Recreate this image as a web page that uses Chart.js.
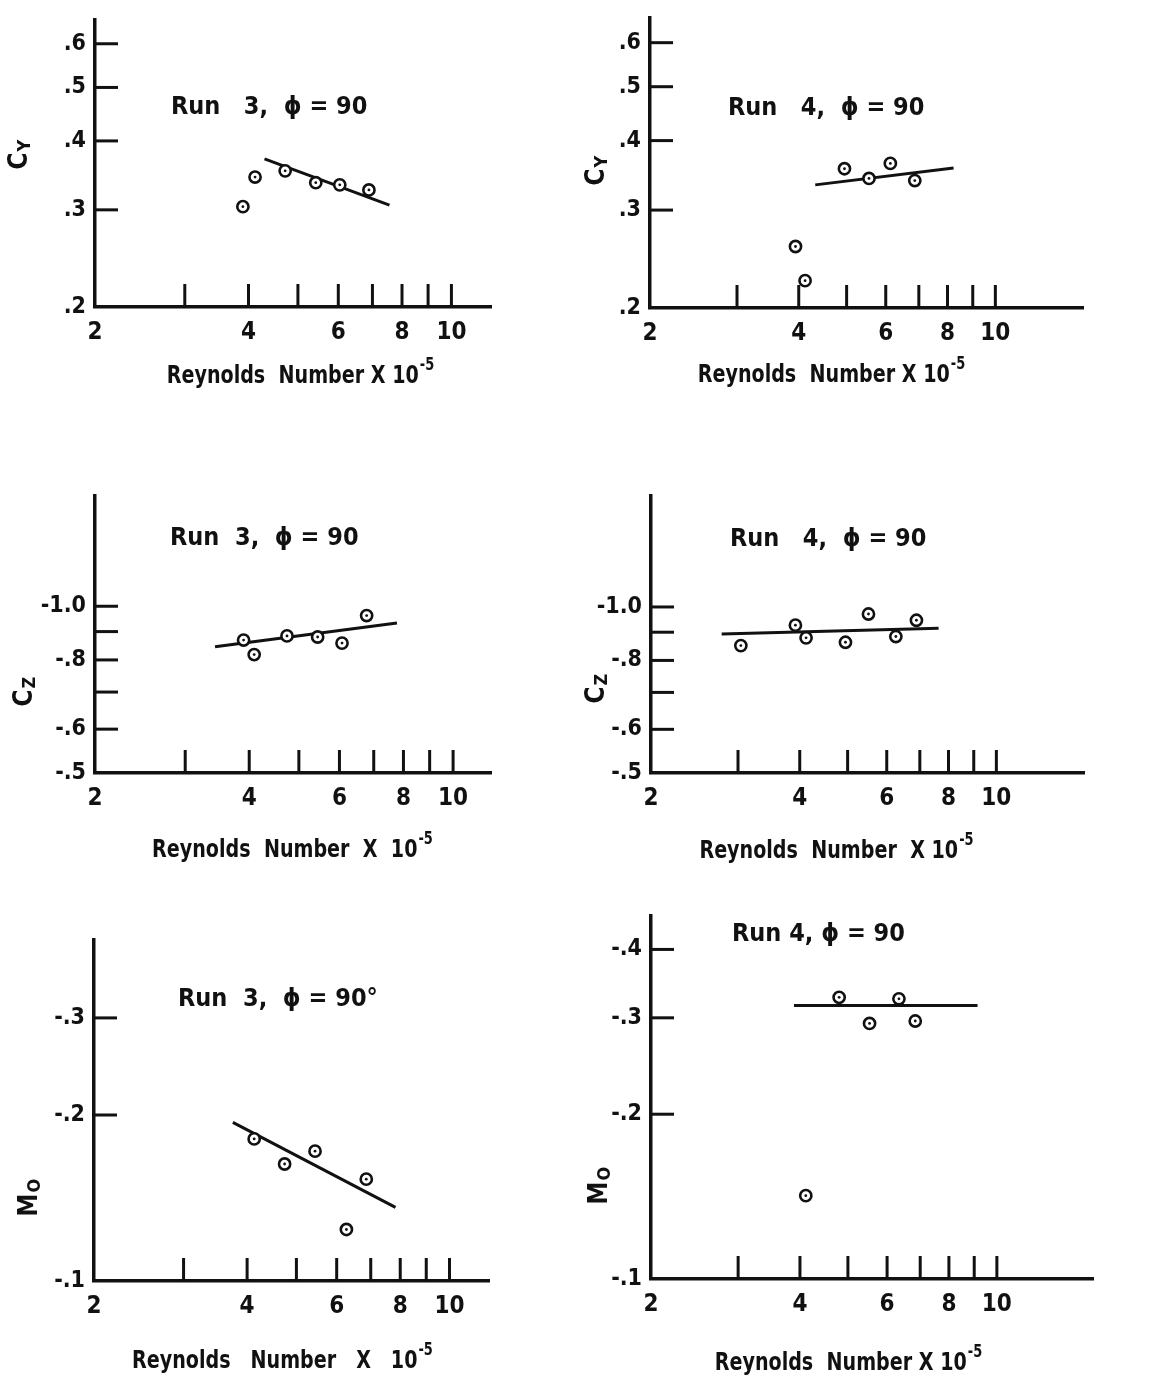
<!DOCTYPE html>
<html>
<head>
<meta charset="utf-8">
<script src="https://cdn.jsdelivr.net/npm/chart.js@4.4.1/dist/chart.umd.min.js"></script>
<style>
	html, body { margin: 0; padding: 0; background: #fff; overflow: hidden; }
	#page { position: relative; width: 1161px; height: 1379px; background: #fff; }
	#page canvas { position: absolute; }
</style>
</head>
<body>
<div id="page"></div>
<script>
	// Reynolds number axis (x 10^-5)
	const reTicks = [2, 3, 4, 5, 6, 7, 8, 9, 10];
	const reTickLabels = ['2', '', '4', '', '6', '', '8', '', '10'];

	// value axes
	const cyTicks = [0.2, 0.3, 0.4, 0.5, 0.6];
	const cyTickLabels = ['.2', '.3', '.4', '.5', '.6'];
	const czTicks = [-0.5, -0.6, -0.7, -0.8, -0.9, -1.0];
	const czTickLabels = ['-.5', '-.6', '', '-.8', '', '-1.0'];
	const mo3Ticks = [-0.1, -0.2, -0.3];
	const mo3TickLabels = ['-.1', '-.2', '-.3'];
	const mo4Ticks = [-0.1, -0.2, -0.3, -0.4];
	const mo4TickLabels = ['-.1', '-.2', '-.3', '-.4'];

	// Run 3, C_Y
	const run3CyRe = [3.90, 4.12, 4.72, 5.42, 6.04, 6.89];
	const run3Cy = [0.304, 0.344, 0.353, 0.336, 0.333, 0.326];
	const run3CyFitRe = [4.30, 7.56];
	const run3CyFit = [0.371, 0.306];

	// Run 4, C_Y
	const run4CyRe = [3.94, 4.12, 4.95, 5.55, 6.13, 6.87];
	const run4Cy = [0.258, 0.224, 0.356, 0.342, 0.364, 0.339];
	const run4CyFitRe = [4.32, 8.23];
	const run4CyFit = [0.333, 0.357];

	// Run 3, C_Z
	const run3CzRe = [3.90, 4.09, 4.74, 5.44, 6.07, 6.78];
	const run3Cz = [-0.869, -0.818, -0.884, -0.880, -0.858, -0.962];
	const run3CzFitRe = [3.43, 7.77];
	const run3CzFit = [-0.845, -0.933];

	// Run 4, C_Z
	const run4CzRe = [3.04, 3.92, 4.12, 4.95, 5.51, 6.26, 6.89];
	const run4Cz = [-0.851, -0.927, -0.879, -0.863, -0.971, -0.884, -0.946];
	const run4CzFitRe = [2.78, 7.64];
	const run4CzFit = [-0.893, -0.915];

	// Run 3, M_O
	const run3MoRe = [4.13, 4.74, 5.44, 6.27, 6.86];
	const run3Mo = [-0.181, -0.163, -0.172, -0.124, -0.153];
	const run3MoFitRe = [3.75, 7.83];
	const run3MoFit = [-0.194, -0.136];

	// Run 4, M_O
	const run4MoRe = [4.11, 4.80, 5.53, 6.34, 6.84];
	const run4Mo = [-0.142, -0.327, -0.293, -0.325, -0.296];
	const run4MoFitRe = [3.89, 9.14];
	const run4MoFit = [-0.316, -0.316];

	const INK = '#111';
	const FONT = "'Liberation Sans Narrow', 'DejaVu Sans Condensed', 'Roboto Condensed', sans-serif";
	const X_BAND = 100;
	const TICK_LEN = 23;
	const SQUEEZE = 0.85;

	// panel layout
	const panels = [
		{ left: 0, top: 12, width: 500, yWidth: 95, plotH: 295, xMax: 12.0, yMin: 0.2, yMax: 0.662,
			re: run3CyRe, val: run3Cy, fitRe: run3CyFitRe, fit: run3CyFit, yTicks: cyTicks, yLabels: cyTickLabels,
			note: 'Run   3,  \u03D5 = 90', noteAt: [76, 94], yMain: 'C', ySub: 'Y', yTitleAt: [-75, 135],
			xTitle: 'Reynolds  Number X 10', xTitleAt: [205, 76] },
		{ left: 550, top: 10, width: 542, yWidth: 100, plotH: 298, xMax: 15.1, yMin: 0.2, yMax: 0.664,
			re: run4CyRe, val: run4Cy, fitRe: run4CyFitRe, fit: run4CyFit, yTicks: cyTicks, yLabels: cyTickLabels,
			note: 'Run   4,  \u03D5 = 90', noteAt: [78, 97], yMain: 'C', ySub: 'Y', yTitleAt: [-53, 153],
			xTitle: 'Reynolds  Number X 10', xTitleAt: [181, 74] },
		{ left: 0, top: 488, width: 500, yWidth: 95, plotH: 285, xMax: 11.9, yMin: 0.5, yMax: 1.58,
			re: run3CzRe, val: run3Cz, fitRe: run3CzFitRe, fit: run3CzFit, yTicks: czTicks, yLabels: czTickLabels,
			note: 'Run  3,  \u03D5 = 90', noteAt: [75, 49], yMain: 'C', ySub: 'Z', yTitleAt: [-70, 196],
			xTitle: 'Reynolds  Number  X  10', xTitleAt: [197, 84] },
		{ left: 550, top: 488, width: 543, yWidth: 101, plotH: 285, xMax: 15.1, yMin: 0.5, yMax: 1.588,
			re: run4CzRe, val: run4Cz, fitRe: run4CzFitRe, fit: run4CzFit, yTicks: czTicks, yLabels: czTickLabels,
			note: 'Run   4,  \u03D5 = 90', noteAt: [79, 50], yMain: 'C', ySub: 'Z', yTitleAt: [-54, 193],
			xTitle: 'Reynolds  Number  X 10', xTitleAt: [185, 85] },
		{ left: 0, top: 932, width: 498, yWidth: 94, plotH: 349, xMax: 12.0, yMin: 0.1, yMax: 0.415,
			re: run3MoRe, val: run3Mo, fitRe: run3MoFitRe, fit: run3MoFit, yTicks: mo3Ticks, yLabels: mo3TickLabels,
			note: 'Run  3,  \u03D5 = 90\u00B0', noteAt: [84, 66], yMain: 'M', ySub: 'O', yTitleAt: [-64, 258],
			xTitle: 'Reynolds   Number   X   10', xTitleAt: [188, 87] },
		{ left: 550, top: 908, width: 552, yWidth: 101, plotH: 371, xMax: 15.7, yMin: 0.1, yMax: 0.46,
			re: run4MoRe, val: run4Mo, fitRe: run4MoFitRe, fit: run4MoFit, yTicks: mo4Ticks, yLabels: mo4TickLabels,
			note: 'Run 4, \u03D5 = 90', noteAt: [81, 25], yMain: 'M', ySub: 'O', yTitleAt: [-51, 270],
			xTitle: 'Reynolds  Number X 10', xTitleAt: [197, 91] }
	];

	// condensed lettering: draw text squeezed sideways
	function fillNarrow(ctx, text, x, y) {
		ctx.save();
		ctx.translate(x, y);
		ctx.scale(SQUEEZE, 1);
		ctx.fillText(text, 0, 0);
		ctx.restore();
	} // fillNarrow

	// inward ticks, captions and axis titles
	function panelTextPlugin(cfg) {
		return {
			id: 'panelText',
			afterDraw: function(chart) {
				const ctx = chart.ctx;
				const a = chart.chartArea;
				const xs = chart.scales.x;
				const ys = chart.scales.y;
				ctx.save();
				ctx.strokeStyle = INK;
				ctx.fillStyle = INK;
				ctx.lineWidth = 3;
				xs.ticks.forEach(function(t) {
					if (t.value <= xs.min) return;
					const px = xs.getPixelForValue(t.value);
					ctx.beginPath();
					ctx.moveTo(px, a.bottom);
					ctx.lineTo(px, a.bottom - TICK_LEN);
					ctx.stroke();
				}); // end forEach
				ys.ticks.forEach(function(t) {
					if (t.value <= ys.min) return;
					const py = ys.getPixelForValue(t.value);
					ctx.beginPath();
					ctx.moveTo(a.left, py);
					ctx.lineTo(a.left + TICK_LEN, py);
					ctx.stroke();
				}); // end forEach

				// Run caption
				ctx.textAlign = 'left';
				ctx.textBaseline = 'alphabetic';
				ctx.font = 'bold 25px ' + FONT;
				ctx.fillText(cfg.note, a.left + cfg.noteAt[0], a.top + cfg.noteAt[1]);

				// x title with superscript
				ctx.font = 'bold 25px ' + FONT;
				const w1 = ctx.measureText(cfg.xTitle).width * SQUEEZE;
				ctx.font = 'bold 17px ' + FONT;
				const w2 = ctx.measureText('-5').width * SQUEEZE;
				const x0 = a.left + cfg.xTitleAt[0] - (w1 + w2) / 2;
				const yb = a.bottom + cfg.xTitleAt[1];
				ctx.font = 'bold 25px ' + FONT;
				fillNarrow(ctx, cfg.xTitle, x0, yb);
				ctx.font = 'bold 17px ' + FONT;
				fillNarrow(ctx, '-5', x0 + w1 + 1, yb - 13);

				// y title, rotated, with subscript
				ctx.translate(a.left + cfg.yTitleAt[0], a.top + cfg.yTitleAt[1]);
				ctx.rotate(-Math.PI / 2);
				ctx.textBaseline = 'middle';
				ctx.font = 'bold 26px ' + FONT;
				const wm = ctx.measureText(cfg.yMain).width;
				ctx.font = 'bold 18px ' + FONT;
				const ws = ctx.measureText(cfg.ySub).width;
				const s0 = -(wm + ws) / 2;
				ctx.font = 'bold 26px ' + FONT;
				ctx.fillText(cfg.yMain, s0, 0);
				ctx.font = 'bold 18px ' + FONT;
				ctx.fillText(cfg.ySub, s0 + wm + 1, 5);
				ctx.restore();
			} // afterDraw
		};
	} // panelTextPlugin

	function makePanel(cfg) {
		const cvs = document.createElement('canvas');
		cvs.width = cfg.width;
		cvs.height = cfg.plotH + X_BAND;
		cvs.style.left = cfg.left + 'px';
		cvs.style.top = cfg.top + 'px';
		document.getElementById('page').appendChild(cvs);

		// negative coefficients are plotted on a log scale of their size
		const pts = cfg.re.map(function(r, i) { return { x: r, y: Math.abs(cfg.val[i]) }; });
		const fit = cfg.fitRe.map(function(r, i) { return { x: r, y: Math.abs(cfg.fit[i]) }; });
		const yVals = cfg.yTicks.map(Math.abs);

		new Chart(cvs, {
			type: 'scatter',
			data: {
				datasets: [
					{ data: pts, pointRadius: 1.4, pointBackgroundColor: INK, pointBorderWidth: 0, order: 0 },
					{ data: pts, pointRadius: 5.6, pointBackgroundColor: '#fff', pointBorderColor: INK, pointBorderWidth: 2.6, order: 1 },
					{ data: fit, showLine: true, pointRadius: 0, borderColor: INK, borderWidth: 3, order: 2 }
				]
			},
			options: {
				responsive: false,
				animation: false,
				events: [],
				layout: { padding: 0 },
				plugins: { legend: { display: false }, tooltip: { enabled: false } },
				scales: {
					x: {
						type: 'logarithmic', min: 2, max: cfg.xMax,
						grid: { display: true, drawOnChartArea: false, drawTicks: false },
						border: { display: true, color: INK, width: 3.5 },
						afterBuildTicks: function(s) { s.ticks = reTicks.map(function(v) { return { value: v }; }); },
						afterFit: function(s) { s.height = X_BAND; s.paddingLeft = 0; s.paddingRight = 0; },
						ticks: {
							autoSkip: false, maxRotation: 0, minRotation: 0, padding: 11, color: INK,
							font: { family: FONT, size: 24, weight: 'bold' },
							callback: function(v, i) { return reTickLabels[i]; }
						}
					},
					y: {
						type: 'logarithmic', min: cfg.yMin, max: cfg.yMax,
						grid: { display: true, drawOnChartArea: false, drawTicks: false },
						border: { display: true, color: INK, width: 3.5 },
						afterBuildTicks: function(s) { s.ticks = yVals.map(function(v) { return { value: v }; }); },
						afterFit: function(s) { s.width = cfg.yWidth; s.paddingTop = 0; s.paddingBottom = 0; },
						ticks: {
							autoSkip: false, padding: 9, color: INK,
							font: { family: FONT, size: 23, weight: 'bold' },
							callback: function(v, i) { return cfg.yLabels[i]; }
						}
					}
				}
			},
			plugins: [panelTextPlugin(cfg)]
		}); // end chart
	} // makePanel

	panels.forEach(makePanel);
</script>
</body>
</html>
